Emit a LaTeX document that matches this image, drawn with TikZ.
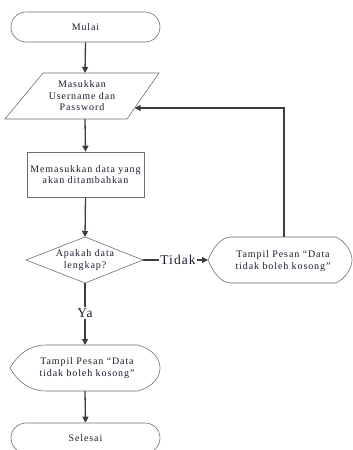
\documentclass[tikz,border=0pt]{standalone}
\usepackage{fontspec}
\setmainfont{Liberation Serif}
\usetikzlibrary{arrows.meta}
\newfontfamily\lblfont[LetterSpace=9]{Liberation Serif}
\newfontfamily\bigfont[LetterSpace=8]{Liberation Serif}
\definecolor{shapecol}{HTML}{6E6E6E}
\definecolor{linecol}{HTML}{3C3C3C}
\definecolor{txtcol}{HTML}{1A1A2E}
\begin{document}
\begin{tikzpicture}[x=1pt,y=-1pt,
  shapeline/.style={draw=shapecol,line width=0.6pt},
  txt/.style={font=\lblfont\fontsize{10}{11.5}\selectfont,text=txtcol,align=center,inner sep=0pt},
  term/.style={shapeline,rectangle,rounded corners=15pt,minimum width=149pt,minimum height=30pt,txt},
  procbox/.style={shapeline,rectangle,minimum width=117pt,minimum height=45pt,txt},
  biglbl/.style={font=\bigfont\fontsize{13.5}{14}\selectfont,text=txtcol,inner sep=1pt},
  conn/.style={draw=linecol,line width=1.3pt},
  arr/.style={conn,-{Triangle[length=6pt,width=6pt]}}
]
\useasboundingbox (0,0) rectangle (353,450);
\clip (0,0) rectangle (353,450);

% Terminal Mulai
\node[term] (mulai) at (85.5,27) {Mulai};

% Input parallelogram
\draw[shapeline] (43,73) -- (159,73) -- (127,119) -- (5,119) -- cycle;
\coordinate (intop) at (85,73);
\coordinate (inbot) at (85,119);
\coordinate (inright) at (134.7,108);
\node[txt] (input) at (82,96) {Masukkan\\Username dan\\Password};

% Process
\node[procbox] (proc) at (85.5,174.5) {Memasukkan data yang\\akan ditambahkan};

% Decision
\draw[shapeline] (85,237) -- (143,260) -- (85,283) -- (26,260) -- cycle;
\coordinate (dtop) at (85,237);
\coordinate (dright) at (143,260);
\coordinate (dbot) at (85,283);
\node[txt] (dec) at (85,260) {Apakah data\\lengkap?};

% Display 1 (right)
\draw[shapeline] (208,260) .. controls (214,247) and (220,237) .. (232,237) -- (336,237)
  .. controls (346,242) and (352,252) .. (352,260) .. controls (352,268) and (346,278) .. (336,283)
  -- (232,283) .. controls (220,283) and (214,273) .. (208,260) -- cycle;
\coordinate (d1tip) at (208,260);
\coordinate (d1top) at (284,237);
\node[txt] (disp1) at (283,261) {Tampil Pesan “Data\\tidak boleh kosong”};

% Display 2 (bottom)
\draw[shapeline] (10,368) .. controls (18,354) and (30,345) .. (46,345) -- (138,345)
  .. controls (152,349) and (160,358) .. (160,368) .. controls (160,378) and (152,387) .. (138,391)
  -- (46,391) .. controls (30,391) and (18,382) .. (10,368) -- cycle;
\coordinate (d2top) at (85,345);
\coordinate (d2bot) at (85,391);
\node[txt] (disp2) at (87,368) {Tampil Pesan “Data\\tidak boleh kosong”};

% Terminal Selesai
\node[term] (selesai) at (85.5,438) {Selesai};

% Labels
\node[biglbl] (tidak) at (178,260) {Tidak};
\node[biglbl] (ya) at (85,313) {Ya};

% Connectors
\draw[arr] (mulai.south) -- (intop);
\draw[arr] (inbot) -- (proc.north);
\draw[arr] (proc.south) -- (dtop);
\draw[conn] (dright) -- (tidak.west);
\draw[arr] (tidak.east) -- (d1tip);
\draw[conn] (dbot) -- (ya.north);
\draw[arr] (ya.south) -- (d2top);
\draw[arr] (d2bot) -- (selesai.north);
\draw[arr] (d1top) |- (inright);
\end{tikzpicture}
\end{document}
